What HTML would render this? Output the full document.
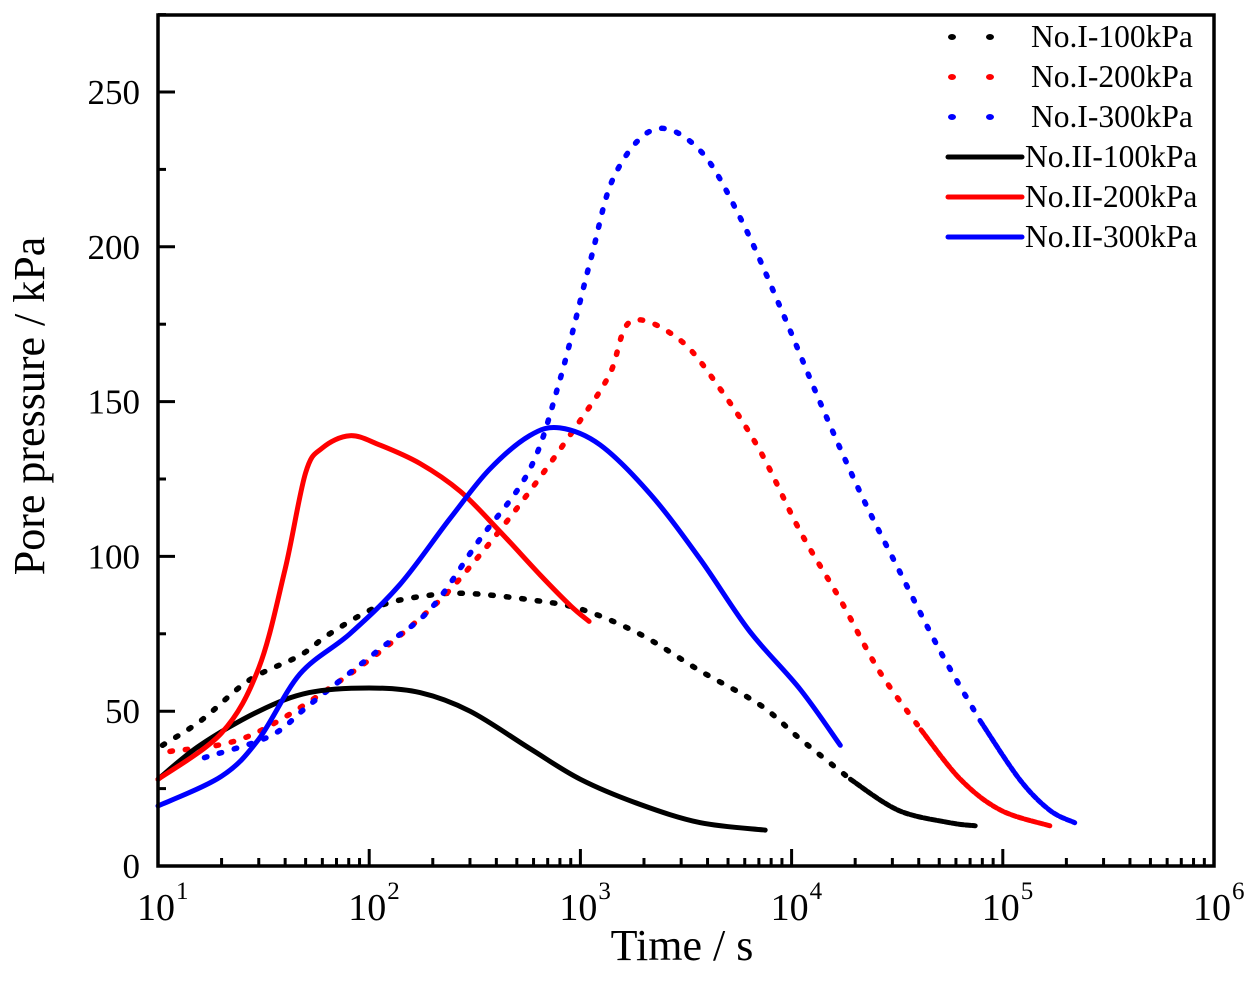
<!DOCTYPE html>
<html><head><meta charset="utf-8"><style>
body{margin:0;background:#fff}
svg{display:block;font-family:"Liberation Serif",serif}
</style></head><body>
<svg id="chart" width="1254" height="984" viewBox="0 0 1254 984" xmlns="http://www.w3.org/2000/svg">
<g id="marks"></g>
<g id="axes"></g>
<g id="legend"></g>
<text x="682" y="960" font-size="44" text-anchor="middle">Time / s</text>
<text transform="translate(44,406) rotate(-90)" font-size="44" text-anchor="middle">Pore pressure / kPa</text>
</svg>
<script>
const t_I100=[10.5,16,27,47,65,112,195,300,575,1000,1900,3700,7100,11000,19000,32000,56000,74000];
const v_I100=[39,47,60,68,75,84,87.5,88,86,83,75,63,52,41,28,18,14,13];
const t_I200=[11.4,27,81,195,330,575,1000,1380,1740,2950,4600,7100,11000,17000,26000,41000,63000,98000,167000];
const v_I200=[37,42,62,83,100,121,144,159,176,170,154,134,108,86,63,44,28,18,13];
const t_I300=[16.6,34,52,112,195,330,575,800,1120,1450,2250,3700,5750,8900,13600,21000,32000,50000,78000,120000,167000,219000];
const v_I300=[35,42,52,70,83,105,128,157,196,223,238,231,209,180,150,121,96,70,47,28,18,14];
const t_II100=[10,15.8,30,52,100,174,300,575,1000,1900,3700,7500];
const v_II100=[28,39,50,56,57.5,56,50,38,28,20,14,11.6];
const t_II200=[10,20,30,40,50,60,81,112,174,270,410,645,900,1100];
const v_II200=[28,43,64,96,127,135,139,136,130,121,108.5,94,84,79];
const t_II300=[10,20,30,47,81,140,240,370,575,800,1240,2150,3700,6300,11000,17000];
const v_II300=[19.4,29,41,62,75,91,112,128,139,141.5,136,120,99,76,57,39];
const yTicks=[0,50,100,150,200,250];
const xExps=[1,2,3,4,5,6];
const legendLabels=["No.I-100kPa","No.I-200kPa","No.I-300kPa","No.II-100kPa","No.II-200kPa","No.II-300kPa"];

const L=158,R=1214,T=15,B=866;
const xs=t=>L+(Math.log10(t)-1)*(R-L)/5;
const ys=v=>B-v*(B-92)/250;
const NS="http://www.w3.org/2000/svg";
function mk(tag,attrs,parent){const e=document.createElementNS(NS,tag);for(const k in attrs)e.setAttribute(k,attrs[k]);parent.appendChild(e);return e;}
const marks=document.getElementById('marks'),axes=document.getElementById('axes'),legend=document.getElementById('legend');
function pathD(ts,vs){
  const p=ts.map((t,i)=>[xs(t),ys(vs[i])]);
  let d='M'+p[0][0].toFixed(1)+','+p[0][1].toFixed(1);
  for(let i=0;i<p.length-1;i++){
    const p0=p[i-1]||p[i],p1=p[i],p2=p[i+1],p3=p[i+2]||p2;
    const c1=[p1[0]+(p2[0]-p0[0])/6,p1[1]+(p2[1]-p0[1])/6];
    const c2=[p2[0]-(p3[0]-p1[0])/6,p2[1]-(p3[1]-p1[1])/6];
    d+='C'+c1.map(n=>n.toFixed(1)).join(',')+' '+c2.map(n=>n.toFixed(1)).join(',')+' '+p2[0].toFixed(1)+','+p2[1].toFixed(1);
  }
  return d;
}
function dotted(ts,vs,col,name,tailFrom){
  const it=[],iv=[],ht=[],hv=[];
  ts.forEach((t,i)=>{if(t<=tailFrom){ht.push(t);hv.push(vs[i]);}if(t>=tailFrom){it.push(t);iv.push(vs[i]);}});
  const p=mk('path',{d:pathD(ht,hv),fill:'none',stroke:col,'stroke-width':5.5,'stroke-linecap':'round','stroke-dasharray':'2.5 13'},marks);
  
  
  if(it.length>1){const q=mk('path',{d:pathD(it,iv),fill:'none',stroke:col,'stroke-width':5,'stroke-linecap':'round','stroke-dasharray':'5 2'},marks);
  
  }
}
function solid(ts,vs,col,name){
  const p=mk('path',{d:pathD(ts,vs),fill:'none',stroke:col,'stroke-width':5,'stroke-linejoin':'round','stroke-linecap':'round'},marks);
  
  
}
dotted(t_I100,v_I100,'#000','series-no-i-100kpa',19000);
dotted(t_I200,v_I200,'#f00','series-no-i-200kpa',41000);
dotted(t_I300,v_I300,'#00f','series-no-i-300kpa',78000);
solid(t_II100,v_II100,'#000','series-no-ii-100kpa');
solid(t_II200,v_II200,'#f00','series-no-ii-200kpa');
solid(t_II300,v_II300,'#00f','series-no-ii-300kpa');

const fr=mk('rect',{x:L,y:T,width:R-L,height:B-T,fill:'none',stroke:'#000','stroke-width':3.5},axes);


yTicks.forEach(v=>{
  const y=ys(v);
  mk('line',{x1:L,x2:L+17,y1:y,y2:y,stroke:'#000','stroke-width':3},axes);
  if(v+25<=275){const y2=ys(v+25);mk('line',{x1:L,x2:L+8,y1:y2,y2:y2,stroke:'#000','stroke-width':3},axes);}
  const tx=mk('text',{x:L-18,y:y+12,'font-size':35,'text-anchor':'end'},axes);
  tx.textContent=v;
  
  
});
xExps.forEach(e=>{
  const x=xs(Math.pow(10,e));
  mk('line',{x1:x,x2:x,y1:B,y2:B-17,stroke:'#000','stroke-width':3},axes);
  if(e<6)for(let m=2;m<=9;m++){const xm=xs(m*Math.pow(10,e));mk('line',{x1:xm,x2:xm,y1:B,y2:B-8,stroke:'#000','stroke-width':3},axes);}
  const tx=mk('text',{x:x-2,y:B+54,'font-size':38,'text-anchor':'middle'},axes);
  tx.textContent='10';
  
  
  const sp=mk('text',{x:x+18,y:B+33,'font-size':25,'text-anchor':'start'},axes);
  sp.textContent=e;
  
  
});
const cols=['#000','#f00','#00f','#000','#f00','#00f'];
legendLabels.forEach((lab,i)=>{
  const y=37+i*40;
  if(i<3){
    mk('ellipse',{cx:952,cy:y,rx:4,ry:3,fill:cols[i]},legend);
    mk('ellipse',{cx:990,cy:y,rx:4,ry:3,fill:cols[i]},legend);
  }else{
    mk('line',{x1:948,x2:1022,y1:y,y2:y,stroke:cols[i],'stroke-width':5,'stroke-linecap':'round'},legend);
  }
  const tx=mk('text',{x:i<3?1031:1025,y:y+10,'font-size':31.5},legend);
  tx.textContent=lab;
  
  
});
</script>
</body></html>
